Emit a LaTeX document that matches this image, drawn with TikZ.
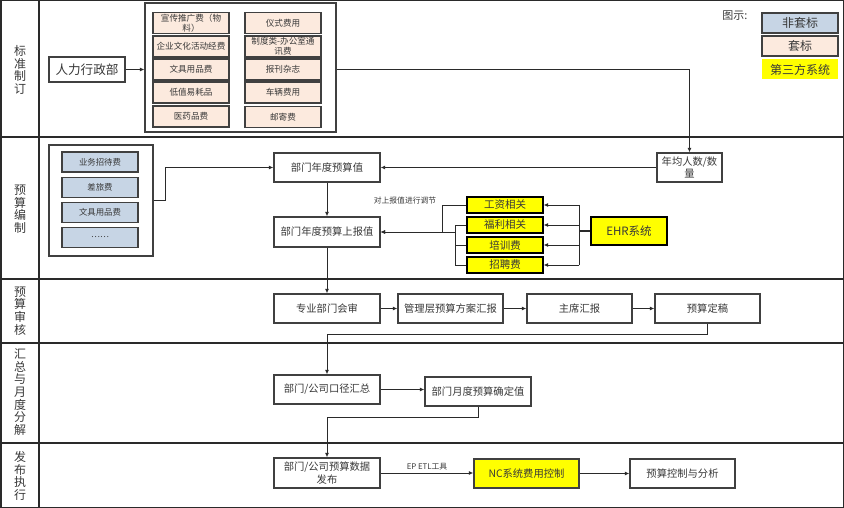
\documentclass[tikz,border=0pt]{standalone}
\usepackage{fontspec}
\setmainfont{Noto Sans CJK SC}
\usetikzlibrary{arrows.meta}
\definecolor{bc}{HTML}{404040}
\definecolor{lc}{HTML}{2A2A2A}
\definecolor{pinkf}{HTML}{FCEADE}
\definecolor{bluef}{HTML}{C7D5E5}
\definecolor{yel}{HTML}{FFFF00}
\definecolor{txt}{HTML}{383838}
\begin{document}
\begin{tikzpicture}[x=1pt,y=-1pt,
  every node/.style={text=txt, inner sep=1pt, align=center},
  sz/.style n args={2}{minimum width=#1, minimum height=#2},
  proc/.style={draw=bc, line width=1.3pt, fill=white, font=\fontsize{10.3}{12.5}\selectfont},
  pinkbox/.style={draw=bc, line width=1.2pt, fill=pinkf, sz={76pt}{21pt}, font=\fontsize{8.6}{10.5}\selectfont},
  bluebox/.style={draw=bc, line width=1.2pt, fill=bluef, sz={76pt}{20pt}, font=\fontsize{8.4}{10}\selectfont},
  yelbox/.style={draw=black, line width=1.2pt, fill=yel, sz={76pt}{16pt}, font=\fontsize{10.5}{12}\selectfont},
  cont/.style={draw=bc, line width=1.2pt},
  lane/.style={font=\fontsize{12}{12.6}\selectfont, text=txt},
  legbox/.style={draw=bc, line width=1.2pt, sz={76pt}{20pt}, font=\fontsize{12}{14}\selectfont},
  small/.style={font=\fontsize{7.8}{9}\selectfont},
  arr/.style={draw=lc, line width=0.9pt, -{Latex[length=4.5pt,width=4pt]}},
  ln/.style={draw=lc, line width=0.9pt}
]
\useasboundingbox (0,0) rectangle (844,508);
% frame and lanes
\draw[line width=1.5pt, draw=lc] (0.75,0.75) rectangle (843.25,507.25);
\draw[line width=1.2pt, draw=lc] (39,0) -- (39,508);
\foreach \yy in {137,279,343,443}
  \draw[line width=1.2pt, draw=lc] (0,\yy) -- (844,\yy);
\node[lane] (l1) at (20,70) {标\\准\\制\\订};
\node[lane] (l2) at (20,209) {预\\算\\编\\制};
\node[lane] (l3) at (20,311) {预\\算\\审\\核};
\node[lane] (l4) at (20,392) {汇\\总\\与\\月\\度\\分\\解};
\node[lane] (l5) at (20,476) {发\\布\\执\\行};

% top lane
\node[proc, sz={76pt}{25pt}, font=\fontsize{12.6}{14}\selectfont] (hr) at (87,69.5) {人力行政部};
\node[cont, sz={191pt}{129pt}] (tcont) at (240.5,67.5) {};
\node[pinkbox] (p1) at (191,23) {宣传推广费（物\\料）};
\node[pinkbox] (p2) at (191,46.5) {企业文化活动经费};
\node[pinkbox] (p3) at (191,69.5) {文具用品费};
\node[pinkbox] (p4) at (191,92.5) {低值易耗品};
\node[pinkbox] (p5) at (191,116.5) {医药品费};
\node[pinkbox] (q1) at (283,23) {仪式费用};
\node[pinkbox] (q2) at (283,46.5) {制度类-办公室通\\讯费};
\node[pinkbox] (q3) at (283,69.5) {报刊杂志};
\node[pinkbox] (q4) at (283,92.5) {车辆费用};
\node[pinkbox] (q5) at (283,117) {邮寄费};

% legend
\node[font=\fontsize{11}{13}\selectfont] (lg) at (735,16) {图示:};
\node[legbox, fill=bluef] (lg1) at (800,23) {非套标};
\node[legbox, fill=pinkf] (lg2) at (800,46) {套标};
\node[legbox, draw=none, fill=yel] (lg3) at (800,69.5) {第三方系统};

% second lane
\node[proc, sz={65pt}{29pt}] (nj) at (689.5,167.5) {年均人数/数\\量};
\node[cont, sz={104pt}{111pt}] (bcont) at (101,200.5) {};
\node[bluebox] (b1) at (100,162) {业务招待费};
\node[bluebox] (b2) at (100,187.5) {差旅费};
\node[bluebox] (b3) at (100,212.5) {文具用品费};
\node[bluebox] (b4) at (100,237.5) {……};
\node[proc, sz={106pt}{29pt}] (ys) at (327,167.5) {部门年度预算值};
\node[proc, sz={106pt}{30pt}] (sb) at (327,232) {部门年度预算上报值};
\node[small] (adj) at (405,201) {对上报值进行调节};
\node[yelbox] (gz) at (505,205) {工资相关};
\node[yelbox] (fl) at (505,225) {福利相关};
\node[yelbox] (px) at (505,245) {培训费};
\node[yelbox] (zp) at (505,265) {招聘费};
\node[proc, draw=black, fill=yel, sz={76pt}{28pt}, font=\fontsize{11.5}{13}\selectfont] (ehr) at (629,231) {EHR系统};

% third lane
\node[proc, sz={106pt}{29pt}] (zy) at (327,308.5) {专业部门会审};
\node[proc, sz={105pt}{29pt}] (gl) at (450.5,308.5) {管理层预算方案汇报};
\node[proc, sz={105pt}{29pt}] (zx) at (579.5,308.5) {主席汇报};
\node[proc, sz={105pt}{29pt}] (dg) at (707.5,308.5) {预算定稿};

% fourth lane
\node[proc, sz={106pt}{29pt}] (kj) at (327,389.5) {部门/公司口径汇总};
\node[proc, sz={106pt}{29pt}] (qd) at (478,391.5) {部门月度预算确定值};

% fifth lane
\node[proc, sz={106pt}{30pt}] (fb) at (327,473) {部门/公司预算数据\\发布};
\node[proc, fill=yel, sz={105pt}{29pt}] (nc) at (526.5,473.5) {NC系统费用控制};
\node[proc, sz={105pt}{29pt}] (fx) at (682.5,473.5) {预算控制与分析};

% connectors
\draw[arr] (hr.east) -- (hr.east -| tcont.west);
\draw[arr] (tcont.east |- hr.east) -| (nj.north);
\draw[arr] (nj.west) -- (ys.east);
\draw[arr] (bcont.east) -- ++(12,0) |- (ys.west);
\draw[arr] (ys.south) -- (sb.north);
\draw[arr] (gz.west) -- ++(-24,0) |- (sb.east);
\draw[arr] (fl.west) -- ++(-11,0) coordinate (j1) |- (sb.east);
\draw[ln] (zp.west) -- ++(-11,0) -- (j1);
\draw[ln] (px.west) -- ++(-11,0);
\draw[draw=lc, line width=2.2pt] (ehr.west) -- ++(-11,0) coordinate (e1);
\draw[ln] (e1 |- gz.east) -- (e1 |- zp.east);
\draw[arr] (e1 |- gz.east) -- (gz.east);
\draw[arr] (e1 |- fl.east) -- (fl.east);
\draw[arr] (e1 |- px.east) -- (px.east);
\draw[arr] (e1 |- zp.east) -- (zp.east);
\draw[arr] (sb.south) -- (zy.north);
\draw[arr] (zy.east) -- (gl.west);
\draw[arr] (gl.east) -- (zx.west);
\draw[arr] (zx.east) -- (dg.west);
\draw[arr] (dg.south) -- ++(0,11) -| (kj.north);
\draw[arr] (kj.east) -- (qd.west |- kj.east);
\draw[arr] (qd.south) -- ++(0,11) -| (fb.north);
\draw[arr] (fb.east) -- node[small, above=1pt] (etl) {EP ETL工具} (nc.west |- fb.east);
\draw[arr] (nc.east) -- (fx.west);
\end{tikzpicture}
\end{document}
